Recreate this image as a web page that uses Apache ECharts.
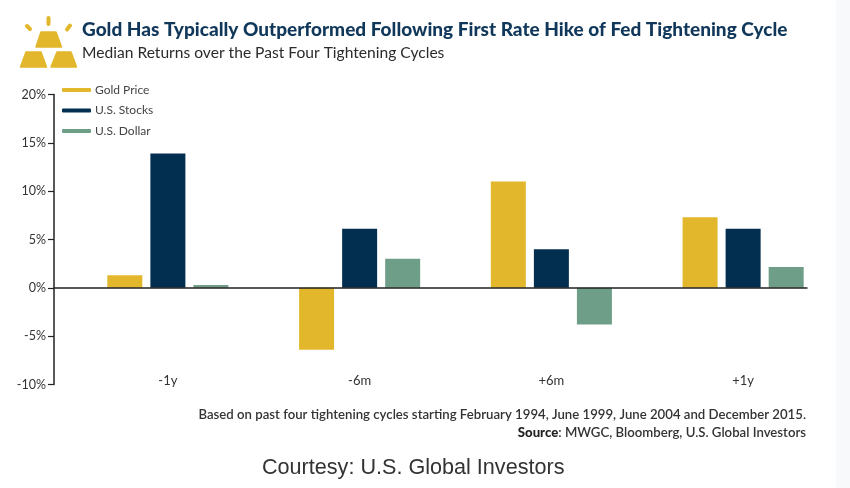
<!DOCTYPE html>
<html><head><meta charset="utf-8">
<style>html,body{margin:0;padding:0;background:#fff}#c{width:850px;height:488px}</style>
<script src="https://cdn.jsdelivr.net/npm/echarts@6/dist/echarts.min.js"></script>
</head><body><div id="c"></div>
<script>
const categories = ['-1y','-6m','+6m','+1y'];
const goldPrice = [1.3,-6.4,11.0,7.3];
const usStocks = [13.9,6.1,4.0,6.1];
const usDollar = [0.3,3.0,-3.8,2.15];
const yTicks = {min:-10,max:20,interval:5};
const GOLD='#e2b72b',NAVY='#022f4f',GREEN='#6f9e88',FONT='Lato, "Open Sans", sans-serif';
const bar=(name,data,color)=>({name,type:'bar',data,xAxisIndex:1,yAxisIndex:1,barWidth:35,barGap:'23%',
  itemStyle:{color},z:2});
const chart=echarts.init(document.getElementById('c'),null,{renderer:'canvas'});
chart.setOption({
  animation:false,backgroundColor:'#fff',
  textStyle:{fontFamily:FONT},
  title:[
   {text:'Gold Has Typically Outperformed Following First Rate Hike of Fed Tightening Cycle',left:77,top:15,
    textStyle:{fontFamily:FONT,fontSize:19,fontWeight:900,color:'#11385a'}},
   {text:'Median Returns over the Past Four Tightening Cycles',left:77,top:40,
    textStyle:{fontFamily:FONT,fontSize:15.6,fontWeight:400,color:'#2b2b2b'}},
   {text:'Based on past four tightening cycles starting February 1994, June 1999, June 2004 and December 2015.',right:39,top:403,
    textStyle:{fontFamily:FONT,fontSize:13.2,fontWeight:600,color:'#333'}},
   {text:'{b|Source}: MWGC, Bloomberg, U.S. Global Investors',right:39,top:421,
    textStyle:{fontFamily:FONT,fontSize:13.2,fontWeight:600,color:'#333',rich:{b:{fontFamily:FONT,fontSize:13.2,fontWeight:900,color:'#222'}}}},
   {text:'Courtesy: U.S. Global Investors',left:257,top:452,
    textStyle:{fontFamily:'"Liberation Sans", Arial, sans-serif',fontSize:21.6,fontWeight:400,color:'#333'}}
  ],
  legend:{orient:'vertical',left:57,top:79,itemWidth:29,itemHeight:4,itemGap:8.5,icon:'roundRect',
    data:['Gold Price','U.S. Stocks','U.S. Dollar'],
    textStyle:{fontFamily:FONT,fontSize:12,color:'#444',padding:[0,0,0,-1]}},
  grid:[
    {left:54,top:94.5,width:753,height:290},
    {left:72,top:94.5,width:767,height:290}
  ],
  xAxis:[
    {gridIndex:0,type:'category',data:categories,axisLine:{onZero:true,lineStyle:{color:'#222',width:1.5}},axisTick:{show:false},axisLabel:{show:false},splitLine:{show:false},z:5},
    {gridIndex:1,type:'category',data:categories,position:'bottom',axisLine:{show:false,onZero:false},axisTick:{show:false},
      axisLabel:{color:'#333',fontSize:13,margin:-10,fontFamily:FONT}}
  ],
  yAxis:[
    {gridIndex:0,type:'value',min:yTicks.min,max:yTicks.max,interval:yTicks.interval,
      axisLine:{show:true,lineStyle:{color:'#222',width:1.5}},axisTick:{show:true,length:6,lineStyle:{color:'#222',width:1.2}},
      splitLine:{show:false},axisLabel:{formatter:'{value}%',color:'#333',fontSize:12.5,margin:8,fontFamily:FONT}},
    {gridIndex:1,type:'value',min:yTicks.min,max:yTicks.max,interval:yTicks.interval,show:false,splitLine:{show:false}}
  ],
  series:[bar('Gold Price',goldPrice,GOLD),bar('U.S. Stocks',usStocks,NAVY),bar('U.S. Dollar',usDollar,GREEN)],
  graphic:[
    {type:'rect',shape:{x:836,y:0,width:14,height:488},style:{fill:'#f8f9fa'},z:-1},
    {type:'polygon',shape:{points:[[41,32],[56,32],[61.5,47],[36,47]]},style:{fill:GOLD,stroke:GOLD,lineWidth:1.5,lineJoin:'round'}},
    {type:'polygon',shape:{points:[[26,52],[41,52],[46.5,67],[20.5,67]]},style:{fill:GOLD,stroke:GOLD,lineWidth:1.5,lineJoin:'round'}},
    {type:'polygon',shape:{points:[[57,52],[71,52],[76.5,67],[51,67]]},style:{fill:GOLD,stroke:GOLD,lineWidth:1.5,lineJoin:'round'}},
    {type:'line',shape:{x1:48.5,y1:18,x2:48.5,y2:24},style:{stroke:GOLD,lineWidth:4,lineCap:'round'}},
    {type:'line',shape:{x1:27,y1:26,x2:30,y2:29},style:{stroke:GOLD,lineWidth:4,lineCap:'round'}},
    {type:'line',shape:{x1:70,y1:25.5,x2:67,y2:29.5},style:{stroke:GOLD,lineWidth:4,lineCap:'round'}}
  ]
});
</script></body></html>
